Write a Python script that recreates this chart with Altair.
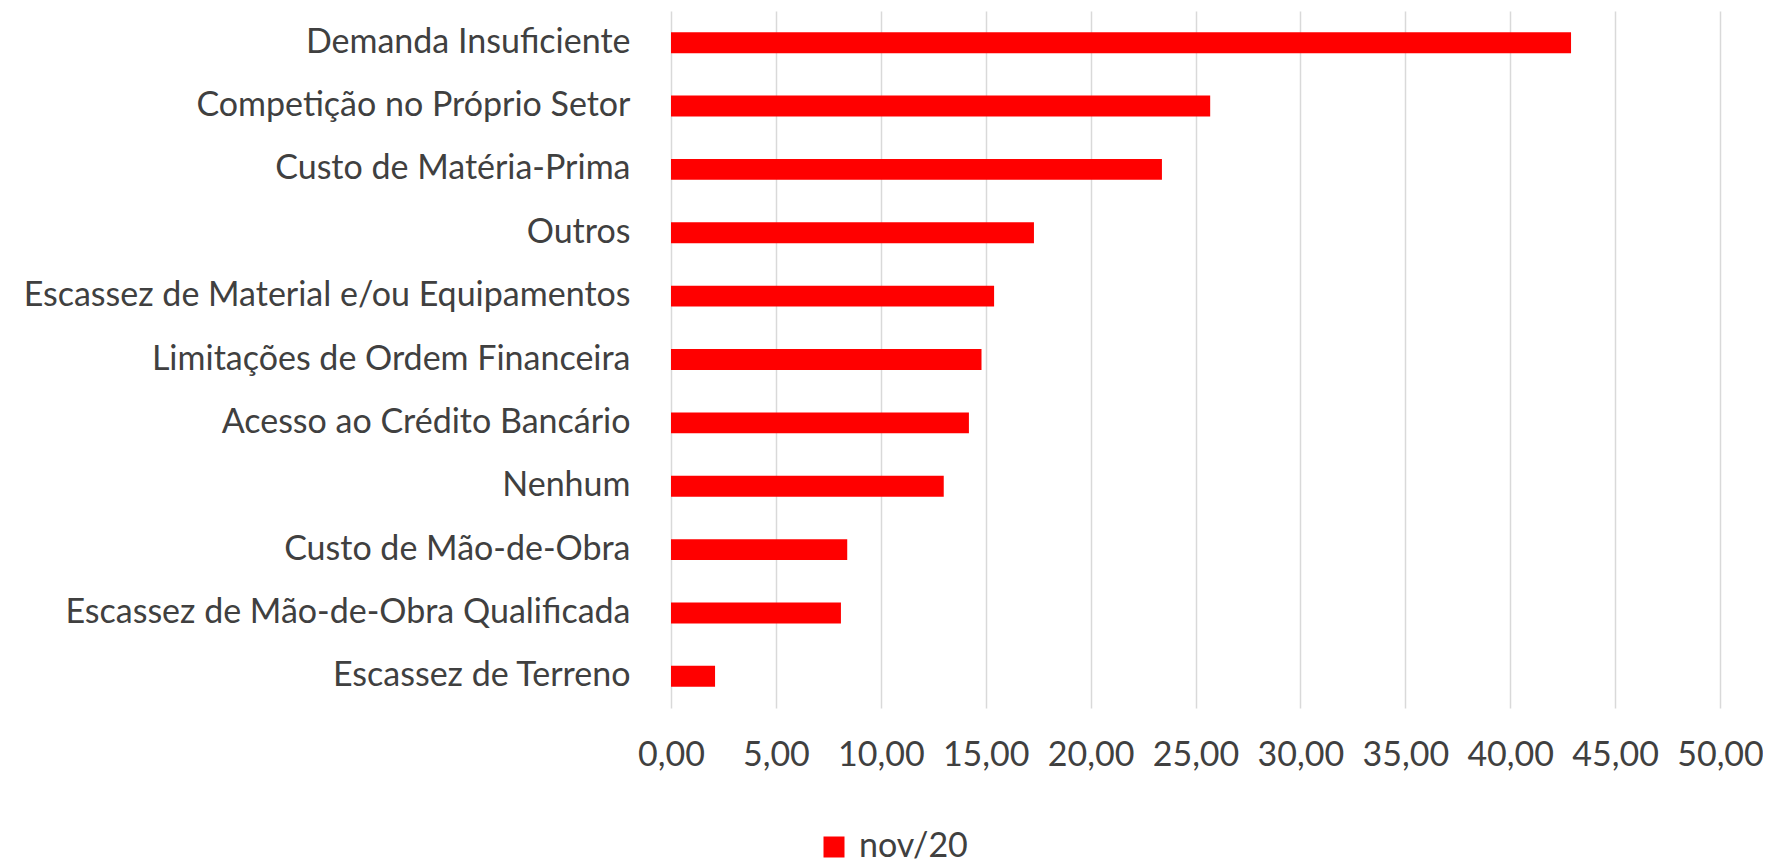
import altair as alt
import pandas as pd

categorias = [
    "Demanda Insuficiente",
    "Competição no Próprio Setor",
    "Custo de Matéria-Prima",
    "Outros",
    "Escassez de Material e/ou Equipamentos",
    "Limitações de Ordem Financeira",
    "Acesso ao Crédito Bancário",
    "Nenhum",
    "Custo de Mão-de-Obra",
    "Escassez de Mão-de-Obra Qualificada",
    "Escassez de Terreno",
]
valores = [42.9, 25.7, 23.4, 17.3, 15.4, 14.8, 14.2, 13.0, 8.4, 8.1, 2.1]
serie = "nov/20"

df = pd.DataFrame({"categoria": categorias, "valor": valores, "serie": [serie] * len(categorias)})

FONT = "Lato"
TXT = "#404040"
FS = 34

chart = (
    alt.Chart(df)
    .mark_bar(color="#FF0000")
    .encode(
        y=alt.Y(
            "categoria:N",
            sort=categorias,
            title=None,
            scale=alt.Scale(paddingInner=0.67, paddingOuter=0.335),
            axis=alt.Axis(
                ticks=False,
                domain=False,
                labelPadding=41,
                labelFont=FONT,
                labelFontSize=FS,
                labelColor=TXT,
                labelLimit=900,
            ),
        ),
        x=alt.X(
            "valor:Q",
            title=None,
            scale=alt.Scale(domain=[0, 50], nice=False),
            axis=alt.Axis(
                values=[0, 5, 10, 15, 20, 25, 30, 35, 40, 45, 50],
                labelExpr="replace(format(datum.value, '.2f'), '.', ',')",
                ticks=False,
                domain=False,
                grid=True,
                gridColor="#D9D9D9",
                gridWidth=1.5,
                labelPadding=30,
                labelFlush=False,
                labelOverlap=False,
                labelFont=FONT,
                labelFontSize=FS,
                labelColor=TXT,
            ),
        ),
        color=alt.Color(
            "serie:N",
            scale=alt.Scale(domain=[serie], range=["#FF0000"]),
            legend=alt.Legend(
                title=None,
                orient="none",
                legendX=146,
                legendY=819,
                symbolType="square",
                symbolSize=441,
                symbolStrokeWidth=0,
                labelFont=FONT,
                labelFontSize=FS,
                labelColor=TXT,
                labelOffset=8,
            ),
        ),
    )
    .properties(
        width=1049,
        height=697,
        autosize=alt.AutoSizeParams(type="none"),
        padding={"left": 663, "top": 3, "right": 43, "bottom": 158},
    )
    .configure_view(stroke=None)
)

chart.save("out.html", embed_options={"renderer": "svg", "actions": False})
